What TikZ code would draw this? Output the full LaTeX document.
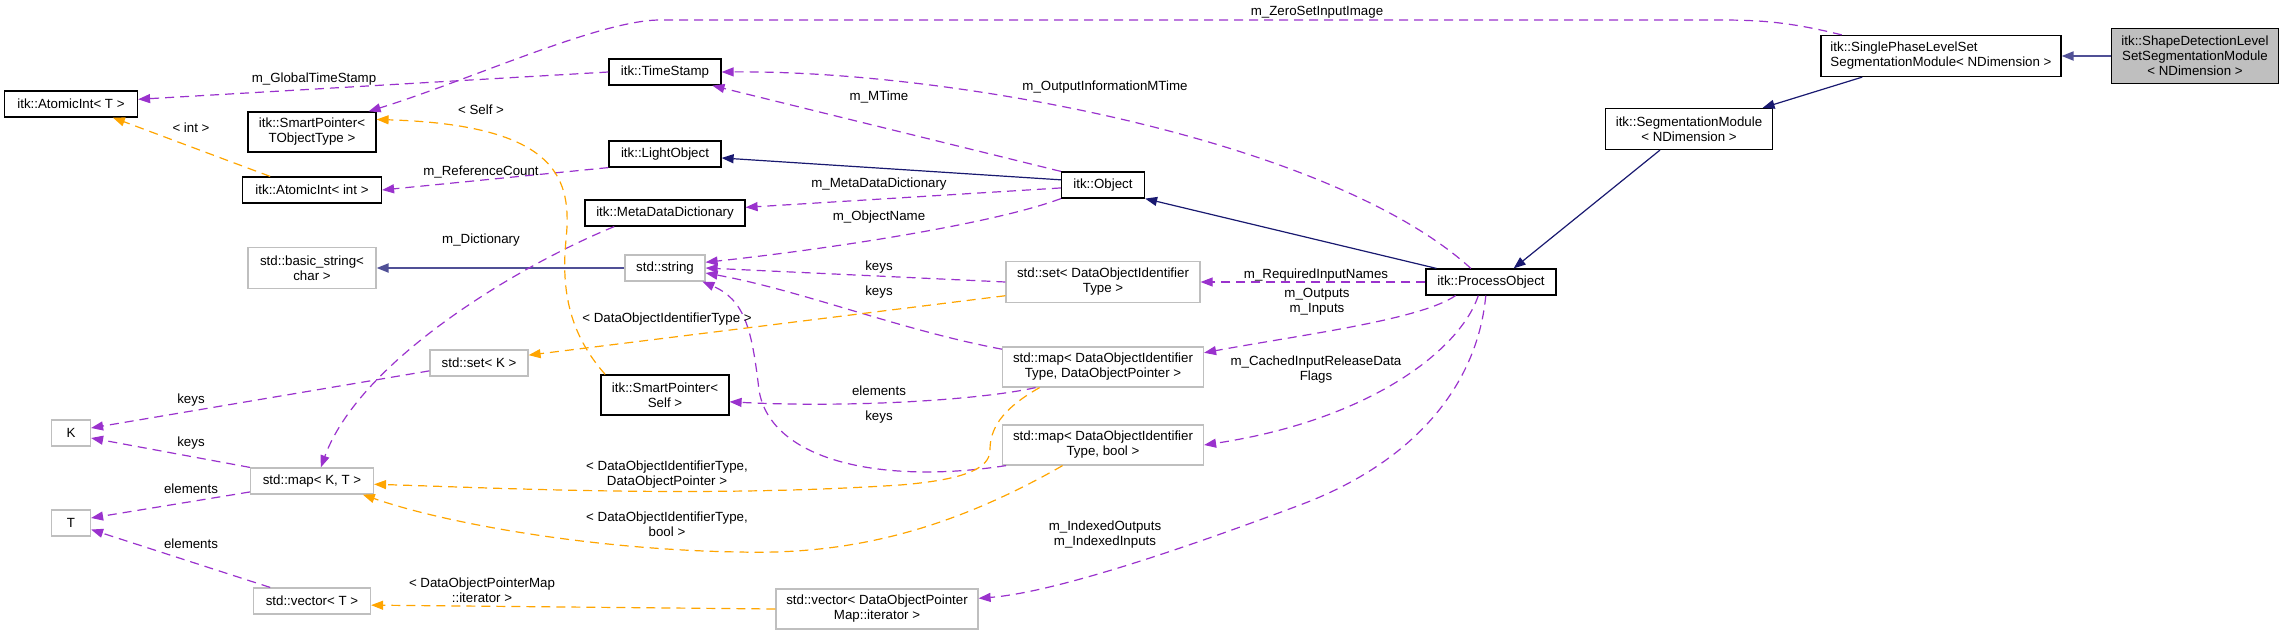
\documentclass[tikz,border=0pt]{standalone}
\usepackage{fontspec}
\setmainfont{Liberation Sans}
\usepackage{tikz}
\usetikzlibrary{arrows.meta}
\definecolor{mynavy}{RGB}{25,25,112}
\definecolor{myslate}{RGB}{80,80,150}
\definecolor{mypurple}{RGB}{154,50,205}
\definecolor{myorange}{RGB}{255,165,0}
\definecolor{mygrey}{RGB}{191,191,191}
\newcommand{\dxfont}{\fontsize{13.3}{15}\selectfont}
\tikzset{
  cls/.style={rectangle, draw=black, fill=white, line width=1.2pt,
    inner sep=0pt, align=center, font=\dxfont},
  stdcls/.style={cls, draw=mygrey},
  curcls/.style={cls, fill=mygrey},
  inherit/.style={-{Triangle[length=12pt,width=9pt]}, color=mynavy, line width=1.2pt},
  usage/.style={-{Triangle[length=12pt,width=9pt]}, color=mypurple,
    line width=1.2pt, dash pattern=on 9pt off 6pt},
  tmpl/.style={usage, color=myorange},
  elabel/.style={font=\dxfont, align=center, inner sep=0pt}
}

\begin{document}
\begin{tikzpicture}[x=1pt, y=-1pt]
  \useasboundingbox (0,0) rectangle (2284,635);

  % Classes of the ITK side
  \node[curcls, minimum width=167pt, minimum height=55pt] (shape) at (2195,56) {itk::ShapeDetectionLevel\\SetSegmentationModule\\< NDimension >};
  \node[cls, minimum width=240pt, minimum height=41pt, align=left] (single) at (1941,56) {itk::SinglePhaseLevelSet\\SegmentationModule< NDimension >};
  \node[cls, minimum width=167pt, minimum height=41pt] (segm) at (1689,129) {itk::SegmentationModule\\< NDimension >};
  \node[cls, minimum width=130pt, minimum height=26pt] (proc) at (1491,282) {itk::ProcessObject};
  \node[cls, minimum width=83pt, minimum height=26pt] (object) at (1103,185) {itk::Object};
  \node[cls, minimum width=112pt, minimum height=26pt] (timestamp) at (665,72) {itk::TimeStamp};
  \node[cls, minimum width=112pt, minimum height=26pt] (lightobj) at (665,154) {itk::LightObject};
  \node[cls, minimum width=160pt, minimum height=26pt] (metadict) at (665,213) {itk::MetaDataDictionary};
  \node[cls, minimum width=133pt, minimum height=26pt] (atomicT) at (71,104) {itk::AtomicInt< T >};
  \node[cls, minimum width=128pt, minimum height=40pt] (smartT) at (312,132) {itk::SmartPointer<\\TObjectType >};
  \node[cls, minimum width=139pt, minimum height=26pt] (atomicInt) at (312,190) {itk::AtomicInt< int >};
  \node[cls, minimum width=128pt, minimum height=40pt] (smartSelf) at (665,395) {itk::SmartPointer<\\Self >};

  % Classes of the std side
  \node[stdcls, minimum width=80pt, minimum height=26pt] (stdstring) at (665,268) {std::string};
  \node[stdcls, minimum width=128pt, minimum height=41pt] (basicstr) at (312,268) {std::basic\_string<\\char >};
  \node[stdcls, minimum width=194pt, minimum height=41pt] (setDOI) at (1103,282) {std::set< DataObjectIdentifier\\Type >};
  \node[stdcls, minimum width=201pt, minimum height=40pt] (mapDOP) at (1103,367) {std::map< DataObjectIdentifier\\Type, DataObjectPointer >};
  \node[stdcls, minimum width=201pt, minimum height=40pt] (mapBool) at (1103,445) {std::map< DataObjectIdentifier\\Type, bool >};
  \node[stdcls, minimum width=202pt, minimum height=40pt] (vecIter) at (877,609) {std::vector< DataObjectPointer\\Map::iterator >};
  \node[stdcls, minimum width=98pt, minimum height=26pt] (setK) at (479,363) {std::set< K >};
  \node[stdcls, minimum width=123pt, minimum height=26pt] (mapKT) at (312,481) {std::map< K, T >};
  \node[stdcls, minimum width=117pt, minimum height=26pt] (vecT) at (312,601) {std::vector< T >};
  \node[stdcls, minimum width=39pt, minimum height=26pt] (Knode) at (71,433) {K};
  \node[stdcls, minimum width=39pt, minimum height=26pt] (Tnode) at (71,523) {T};

  % Inheritance
  \draw[inherit, color=myslate, line width=2pt] (shape.west) -- (single.east);
  \draw[inherit] (single.195) -- (segm.16);
  \draw[inherit] (segm.-144) -- (proc.31);
  \draw[inherit] (proc.166) -- (object.south east);
  \draw[inherit] (object.173) -- (lightobj.-4);
  \draw[inherit, color=myslate, line width=2pt] (stdstring.west) -- (basicstr.east);

  % Members
  \draw[usage] (single.168) .. controls (1790,22) and (1760,20) .. (1720,20) -- (660,20)
    .. controls (600,20) and (470,80) .. (smartT.20);
  \node[elabel] (lzero) at (1317,12) {m\_ZeroSetInputImage};
  \draw[usage] (timestamp.west) -- (atomicT.4);
  \node[elabel] (lglobal) at (314,79) {m\_GlobalTimeStamp};
  \draw[usage] (object.north west) -- (timestamp.-16);
  \node[elabel] (lmtime) at (879,97) {m\_MTime};
  \draw[usage] (proc.146) .. controls (1330,140) and (950,70) .. (timestamp.east);
  \node[elabel] (loutinfo) at (1105,87) {m\_OutputInformationMTime};
  \draw[usage] (lightobj.south west) -- (atomicInt.east);
  \node[elabel] (lref) at (481,172) {m\_ReferenceCount};
  \draw[usage] (object.184) -- (metadict.4);
  \node[elabel] (lmeta) at (879,184) {m\_MetaDataDictionary};
  \draw[usage] (object.south west) .. controls (990,225) and (820,250) .. (stdstring.8);
  \node[elabel] (lname) at (879,217) {m\_ObjectName};
  \draw[usage] (metadict.195) .. controls (520,265) and (360,360) .. (mapKT.57);
  \node[elabel] (ldict) at (481,240) {m\_Dictionary};
  \draw[usage] (setDOI.west) -- (stdstring.east);
  \node[elabel] (lkeys1) at (879,267) {keys};
  \draw[usage] (mapDOP.170) .. controls (900,330) and (800,290) .. (stdstring.-7);
  \node[elabel] (lkeys2) at (879,292) {keys};
  \draw[usage] (mapBool.192) .. controls (880,485) and (770,460) .. (759,390)
    .. controls (752,330) and (745,300) .. (stdstring.-20);
  \node[elabel] (lkeys3) at (879,417) {keys};
  \draw[usage] (mapDOP.197) .. controls (980,400) and (850,408) .. (smartSelf.-6);
  \node[elabel] (lelem1) at (879,391) {elements};
  \draw[usage] (proc.west) -- (setDOI.east);
  \node[elabel] (lreq) at (1316,275) {m\_RequiredInputNames};
  \draw[usage] (proc.201) .. controls (1420,320) and (1300,335) .. (mapDOP.8);
  \node[elabel] (lio) at (1317,302) {m\_Outputs\\m\_Inputs};
  \draw[usage] (proc.227) .. controls (1460,350) and (1370,420) .. (mapBool.east);
  \node[elabel] (lcached) at (1316,370) {m\_CachedInputReleaseData\\Flags};
  \draw[usage] (proc.249) .. controls (1478,380) and (1420,460) .. (1300,505)
    .. controls (1204,541) and (1060,592) .. (vecIter.6);
  \node[elabel] (lindexed) at (1105,535) {m\_IndexedOutputs\\m\_IndexedInputs};
  \draw[usage] (setK.189) -- (Knode.14);
  \node[elabel] (lkeys4) at (191,400) {keys};
  \draw[usage] (mapKT.north west) -- (Knode.-14);
  \node[elabel] (lkeys5) at (191,443) {keys};
  \draw[usage] (mapKT.190) -- (Tnode.14);
  \node[elabel] (lelem2) at (191,489) {elements};
  \draw[usage] (vecT.162) -- (Tnode.-18);
  \node[elabel] (lelem3) at (191,544) {elements};

  % Template instances
  \draw[tmpl] (atomicInt.162) -- (atomicT.-18);
  \node[elabel] (lint) at (191,128) {< int >};
  \draw[tmpl] (smartSelf.161) .. controls (575,340) and (560,300) .. (566,240)
    .. controls (572,180) and (560,125) .. (smartT.11);
  \node[elabel] (lself) at (481,110) {< Self >};
  \draw[tmpl] (setDOI.188) -- (setK.9);
  \node[elabel] (ldoit) at (667,319) {< DataObjectIdentifierType >};
  \draw[tmpl] (mapDOP.198) .. controls (1000,410) and (990,430) .. (990,450)
    .. controls (990,470) and (960,480) .. (900,485)
    .. controls (700,498) and (500,488) .. (mapKT.-3);
  \node[elabel] (ldop) at (667,475) {< DataObjectIdentifierType,\\DataObjectPointer >};
  \draw[tmpl] (mapBool.207) .. controls (950,530) and (850,555) .. (740,552)
    .. controls (600,550) and (450,525) .. (mapKT.-15);
  \node[elabel] (lbool) at (667,524) {< DataObjectIdentifierType,\\bool >};
  \draw[tmpl] (vecIter.west) -- (vecT.-4);
  \node[elabel] (liter) at (482,590) {< DataObjectPointerMap\\::iterator >};
\end{tikzpicture}
\end{document}
